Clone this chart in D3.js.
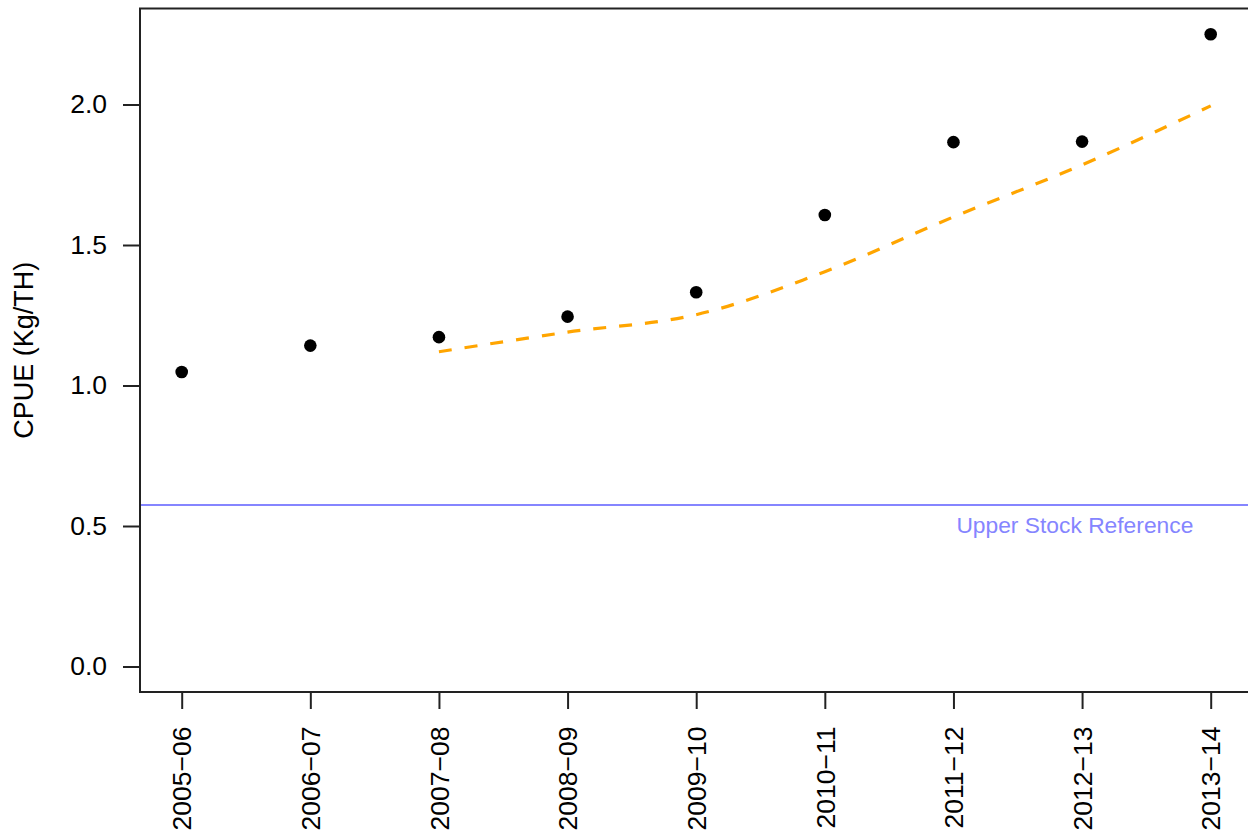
<!DOCTYPE html>
<html>
<head>
<meta charset="utf-8">
<script src="https://cdn.jsdelivr.net/npm/d3@7"></script>
<style>
  html, body { margin: 0; padding: 0; background: #fff; }
  svg { display: block; font-family: "Liberation Sans", Arial, Helvetica, sans-serif; }
</style>
</head>
<body>
<svg id="chart" width="1248" height="833"></svg>
<script>
// ---- data ----
const seasons = ["2005−06","2006−07","2007−08","2008−09","2009−10","2010−11","2011−12","2012−13","2013−14"];
const cpue = [1.048, 1.142, 1.172, 1.245, 1.332, 1.607, 1.866, 1.868, 2.25];
const fitted = [null, null, 1.12, 1.19, 1.252, 1.405, 1.60, 1.785, 1.995];
const yTicks = [0, 0.5, 1.0, 1.5, 2.0];
const upperStockRef = 0.575;
const refLabel = "Upper Stock Reference";
const yLabel = "CPUE (Kg/TH)";

// ---- layout ----
const svg = d3.select("#chart");
const x = d3.scaleLinear().domain([1, seasons.length]).range([181.7, 1210.7]);
const y = d3.scaleLinear().domain([0, 2]).range([666.5, 104.5]);
const xMin = x.invert(140), xMax = x.invert(1262);
const yMin = y.invert(692), yMax = y.invert(8.5);

// reference line
svg.append("line")
  .attr("x1", x(xMin)).attr("x2", x(xMax))
  .attr("y1", y(upperStockRef)).attr("y2", y(upperStockRef))
  .attr("stroke", "#8585ff").attr("stroke-width", 2);
svg.append("text")
  .attr("x", x(8.865)).attr("y", y(upperStockRef) + 28)
  .attr("text-anchor", "end")
  .attr("font-size", 22.8)
  .attr("fill", "#8585ff")
  .text(refLabel);

// fitted dashed curve
const fitData = fitted.map((v, i) => ({i: i + 1, v})).filter(d => d.v !== null);
svg.append("path")
  .datum(fitData)
  .attr("fill", "none")
  .attr("stroke", "#FFA500")
  .attr("stroke-width", 3.2)
  .attr("stroke-dasharray", "13,13")
  .attr("d", d3.line().x(d => x(d.i)).y(d => y(d.v)).curve(d3.curveCatmullRom));

// points
svg.append("g").selectAll("circle")
  .data(cpue)
  .join("circle")
  .attr("cx", (d, i) => x(i + 1))
  .attr("cy", d => y(d))
  .attr("r", 6.3)
  .attr("fill", "#000");

// box
svg.append("rect")
  .attr("x", x(xMin)).attr("y", y(yMax))
  .attr("width", x(xMax) - x(xMin)).attr("height", y(yMin) - y(yMax))
  .attr("fill", "none").attr("stroke", "#222").attr("stroke-width", 2);

// y axis
const yAxis = svg.append("g")
  .attr("transform", `translate(${x(xMin)},0)`)
  .call(d3.axisLeft(y).tickValues(yTicks).tickFormat(d3.format(".1f")).tickSize(17).tickPadding(16));
yAxis.select(".domain").remove();
yAxis.selectAll("line").attr("stroke", "#222").attr("stroke-width", 2);
yAxis.selectAll("text").attr("font-size", 26.5).attr("fill", "#000").attr("font-family", "Liberation Sans, Arial, sans-serif");

// x axis
const xAxis = svg.append("g")
  .attr("transform", `translate(0,${y(yMin)})`)
  .call(d3.axisBottom(x).tickValues(d3.range(1, seasons.length + 1)).tickFormat(d => seasons[d - 1]).tickSize(17));
xAxis.select(".domain").remove();
xAxis.selectAll("line").attr("stroke", "#222").attr("stroke-width", 2);
xAxis.selectAll("text")
  .attr("font-size", 26.5).attr("fill", "#000").attr("font-family", "Liberation Sans, Arial, sans-serif")
  .attr("text-anchor", "end")
  .attr("transform", "rotate(-90)")
  .attr("x", -34.5).attr("y", 0).attr("dy", "0.35em");

// y label
svg.append("text")
  .attr("transform", `translate(33,${(y(yMin) + y(yMax)) / 2 + 0}) rotate(-90)`)
  .attr("text-anchor", "middle")
  .attr("font-size", 27)
  .attr("fill", "#000")
  .text(yLabel);
</script>
</body>
</html>
